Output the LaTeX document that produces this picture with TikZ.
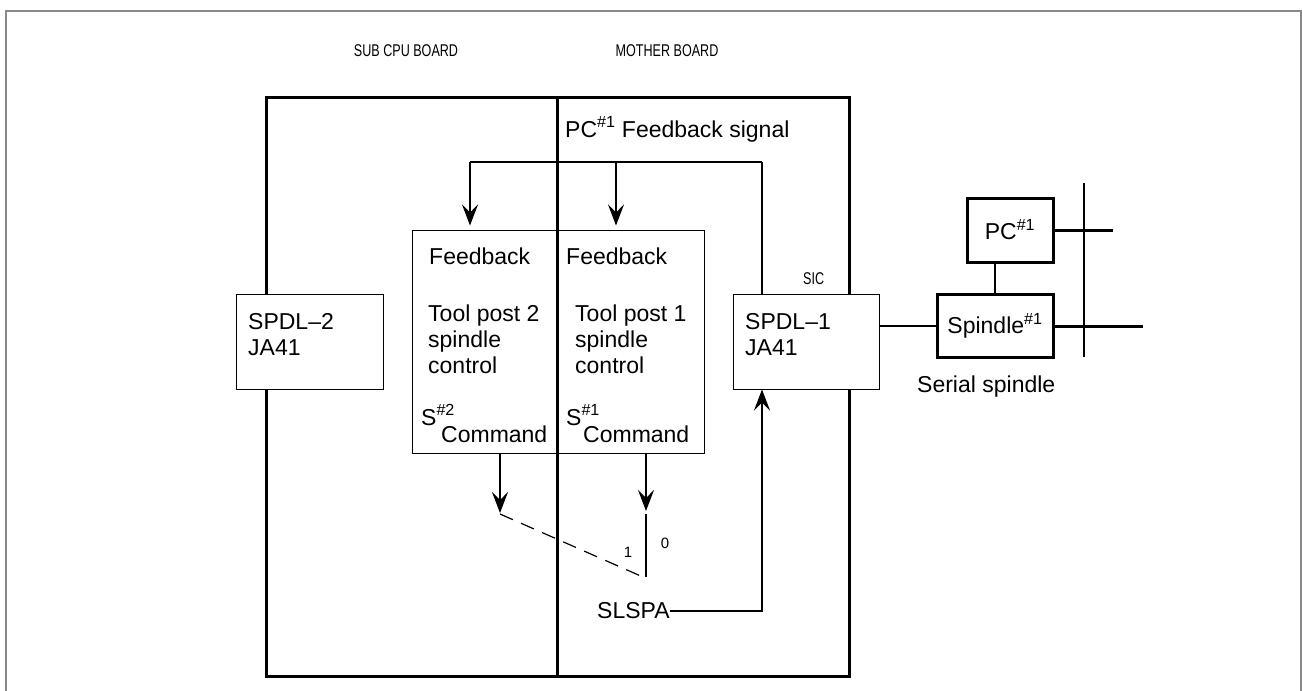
\documentclass[tikz,border=0pt]{standalone}
\usepackage{fontspec}
\setmainfont{Liberation Sans}
\newfontfamily\narrowfont[FakeStretch=0.74]{Liberation Sans}
\usetikzlibrary{arrows.meta}
\definecolor{framegray}{RGB}{136,136,136}
\begin{document}
\begin{tikzpicture}[x=1pt,y=-1pt,
  big/.style={font=\fontsize{23}{26}\selectfont, inner sep=0pt, anchor=base west},
  small/.style={font=\narrowfont\fontsize{17}{19}\selectfont, inner sep=0pt, anchor=base},
  board/.style={line width=3pt},
  thinbox/.style={draw, line width=1pt, inner sep=0pt},
  thickbox/.style={draw, line width=3pt, fill=white, inner sep=0pt, font=\fontsize{23}{26}\selectfont},
  conn/.style={line width=1.2pt},
  tip/.style={-{Stealth[length=21pt,width=16pt,inset=8pt]}},
]
\useasboundingbox (0,0) rectangle (1302,691);
% outer frame
\draw[framegray, line width=2pt] (6,691) -- (6,11) -- (1301,11) -- (1301,691);
% board outline
\draw[board] (266,97) rectangle (849,676);
\draw[board] (557,97) -- (557,676);
\node[small] (subcpu) at (406,56) {SUB CPU BOARD};
\node[small] (mother) at (667,56) {MOTHER BOARD};
% boxes
\node[thinbox, fill=white, minimum width=147pt, minimum height=95pt] (spdl2) at (309.5,341.5) {};
\node[thinbox, fill=white, minimum width=146pt, minimum height=95pt] (spdl1) at (806,341.5) {};
\node[thinbox, minimum width=292pt, minimum height=223pt] (fb) at (558,341.5) {};
\draw[board] (557,230) -- (557,453);
% box texts
\node[big] (t2a) at (248,329) {SPDL--2};
\node[big] (t2b) at (248,355) {JA41};
\node[big] (t1a) at (745,329) {SPDL--1};
\node[big] (t1b) at (745,355) {JA41};
\node[small, anchor=base west] (sic) at (803,284) {SIC};
\node[big] (fbl) at (429,264) {Feedback};
\node[big] (fbr) at (566,264) {Feedback};
\node[big] (tp2a) at (428,321) {Tool post 2};
\node[big] (tp2b) at (428,347) {spindle};
\node[big] (tp2c) at (428,373) {control};
\node[big] (tp1a) at (575,321) {Tool post 1};
\node[big] (tp1b) at (575,347) {spindle};
\node[big] (tp1c) at (575,373) {control};
\node[big] (s2) at (421,425) {S\textsuperscript{\#2}};
\node[big] (c2) at (441,442) {Command};
\node[big] (s1) at (566,425) {S\textsuperscript{\#1}};
\node[big] (c1) at (583,442) {Command};
% feedback signal
\node[big] (pcfb) at (565,137) {PC\textsuperscript{\#1} Feedback signal};
\coordinate (fbR) at (762,162);
\coordinate (fbL) at (470,162);
\coordinate (fbM) at (616,162);
\draw[line width=1.6pt] (fbL) -- (fbR);
\draw[conn] (fbR) -- (spdl1.north -| fbR);
\draw[conn, tip, shorten >=4pt] (fbL) -- (fb.north -| fbL);
\draw[conn, tip, shorten >=4pt] (fbM) -- (fb.north -| fbM);
% command arrows and switch
\coordinate (sw1) at (500,514);
\coordinate (sw0) at (646,514);
\coordinate (swp) at (646,577);
\coordinate (swd) at (643,577);
\draw[conn, tip] (fb.south -| sw1) -- (500,513);
\draw[conn, tip] (fb.south -| sw0) -- (646,511);
\draw[conn] (sw0) -- (swp);
\draw[conn, dash pattern=on 14pt off 9pt] (sw1) -- (swd);
\node[inner sep=0pt, anchor=base, font=\fontsize{15}{17}\selectfont] (one) at (628,557) {1};
\node[inner sep=0pt, anchor=base, font=\fontsize{15}{17}\selectfont] (zero) at (665,548) {0};
% SLSPA
\node[big] (slspa) at (597,618) {SLSPA};
\coordinate (slc) at (762,611);
\draw[conn, tip] (slspa.east |- slc) -- (slc) -- (spdl1.south -| slc);
% serial spindle
\node[thickbox, minimum width=116pt, minimum height=63pt] (sp) at (995,326) {Spindle\textsuperscript{\#1}};
\node[thickbox, minimum width=86pt, minimum height=64pt] (pc) at (1010,230) {PC\textsuperscript{\#1}};
\node[big] (serial) at (917,392) {Serial spindle};
\draw[conn] (sp.west -| spdl1.east) -- (sp.west);
\draw[conn] (sp.north) -- (sp.north |- pc.south);
\draw[line width=3pt] (pc.east) -- (1113,230);
\draw[line width=3pt] (sp.east) -- (1143,326);
\coordinate (busT) at (1084,183);
\coordinate (busB) at (1084,357);
\draw[conn] (busT) -- (busB);
\end{tikzpicture}
\end{document}
